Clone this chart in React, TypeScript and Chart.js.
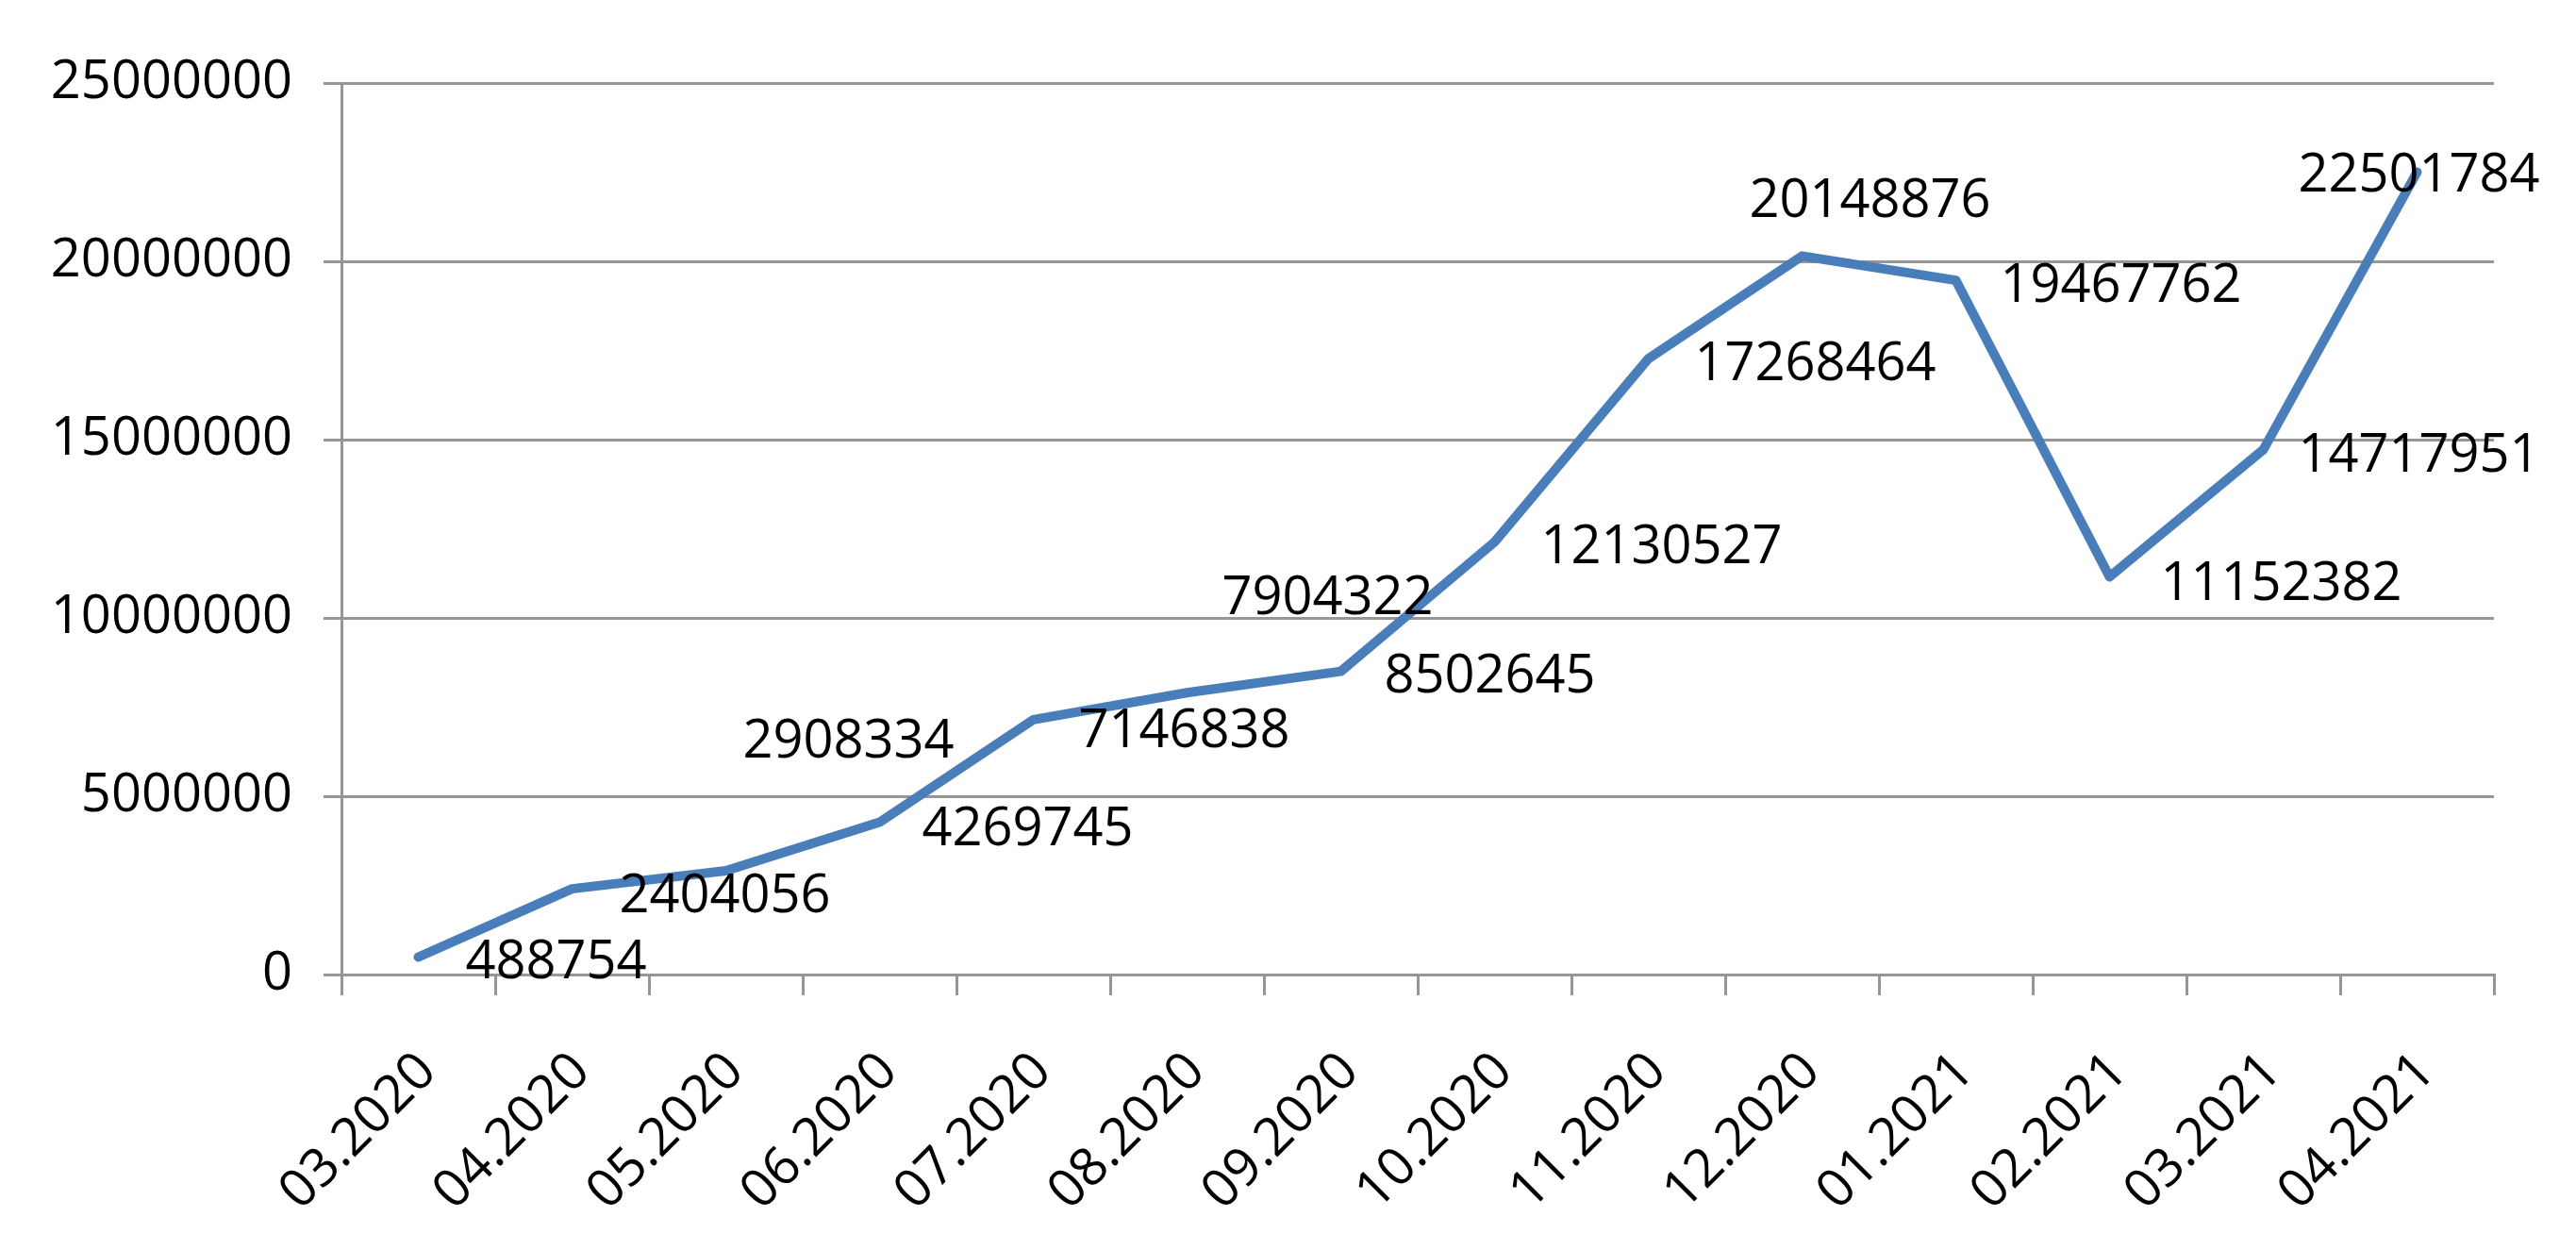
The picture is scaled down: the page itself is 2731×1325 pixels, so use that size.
import React, { useEffect, useRef } from 'react';
import { Chart, registerables } from 'chart.js';

Chart.register(...registerables);

const categories = [
  '03.2020', '04.2020', '05.2020', '06.2020', '07.2020', '08.2020', '09.2020',
  '10.2020', '11.2020', '12.2020', '01.2021', '02.2021', '03.2021', '04.2021',
];

const values = [
  488754, 2404056, 2908334, 4269745, 7146838, 7904322, 8502645,
  12130527, 17268464, 20148876, 19467762, 11152382, 14717951, 22501784,
];

const yTicks = [0, 5000000, 10000000, 15000000, 20000000, 25000000];

// Style: where each value label sits relative to its point (label centre offset in px)
const LABEL_OFFSETS: [number, number][] = [
  [146, 2], [162, 5], [130, -140], [157, 4], [160, 9], [149, -103], [158, 2],
  [177, 3], [177, 3], [72, -61], [175, 3], [182, 5], [165, 3], [2, 1],
];

const FONT = "'Open Sans', sans-serif";
const FONT_SIZE = 56;
const GRID = '#969696';
const LINE = '#4a7ebb';

const valueLabels = {
  id: 'valueLabels',
  afterDatasetsDraw(chart: any) {
    const ctx = chart.ctx;
    const meta = chart.getDatasetMeta(0);
    ctx.save();
    ctx.font = `${FONT_SIZE}px ${FONT}`;
    ctx.fillStyle = '#000';
    ctx.textAlign = 'center';
    ctx.textBaseline = 'alphabetic';
    meta.data.forEach((pt: any, i: number) => {
      const [dx, dy] = LABEL_OFFSETS[i];
      ctx.fillText(String(values[i]), pt.x + dx, pt.y + dy + FONT_SIZE * 0.357);
    });
    ctx.restore();
  },
};

export default function App() {
  const canvasRef = useRef<HTMLCanvasElement | null>(null);

  useEffect(() => {
    document.body.style.margin = '0';
    const canvas = canvasRef.current;
    if (!canvas) return;
    const chart = new Chart(canvas, {
      type: 'line',
      data: {
        labels: categories,
        datasets: [
          {
            data: values,
            borderColor: LINE,
            backgroundColor: LINE,
            borderWidth: 10,
            pointRadius: 0,
            pointHoverRadius: 0,
            tension: 0,
            fill: false,
            borderJoinStyle: 'round',
            borderCapStyle: 'round',
          },
        ],
      },
      options: {
        animation: false,
        responsive: true,
        maintainAspectRatio: false,
        layout: { padding: { left: 0, top: 88, right: 87, bottom: 0 } },
        plugins: {
          legend: { display: false },
          tooltip: { enabled: false },
          title: { display: false },
        },
        scales: {
          x: {
            type: 'category',
            offset: true,
            grid: {
              offset: true,
              drawOnChartArea: false,
              drawTicks: true,
              tickLength: 22,
              color: GRID,
              lineWidth: 3,
            },
            border: { display: true, color: GRID, width: 3 },
            ticks: {
              autoSkip: false,
              maxRotation: 45,
              minRotation: 45,
              padding: 48,
              labelOffset: 10,
              color: '#000',
              font: { family: FONT, size: FONT_SIZE },
            },
            afterFit: (s: any) => {
              s.height = 292;
            },
          },
          y: {
            min: 0,
            max: 25000000,
            afterBuildTicks: (s: any) => {
              s.ticks = yTicks.map((v) => ({ value: v }));
            },
            ticks: {
              padding: 33,
              color: '#000',
              font: { family: FONT, size: FONT_SIZE },
              callback: (v: any) => String(v),
            },
            grid: { color: GRID, lineWidth: 3, tickLength: 19, drawTicks: true },
            border: { display: true, color: GRID, width: 3 },
            afterFit: (s: any) => {
              s.width = 362;
            },
          },
        },
      },
      plugins: [valueLabels],
    });
    return () => chart.destroy();
  }, []);

  return (
    <div style={{ position: 'fixed', left: 0, top: 0, width: 2731, height: 1325, background: '#fff' }}>
      <canvas ref={canvasRef} />
    </div>
  );
}
